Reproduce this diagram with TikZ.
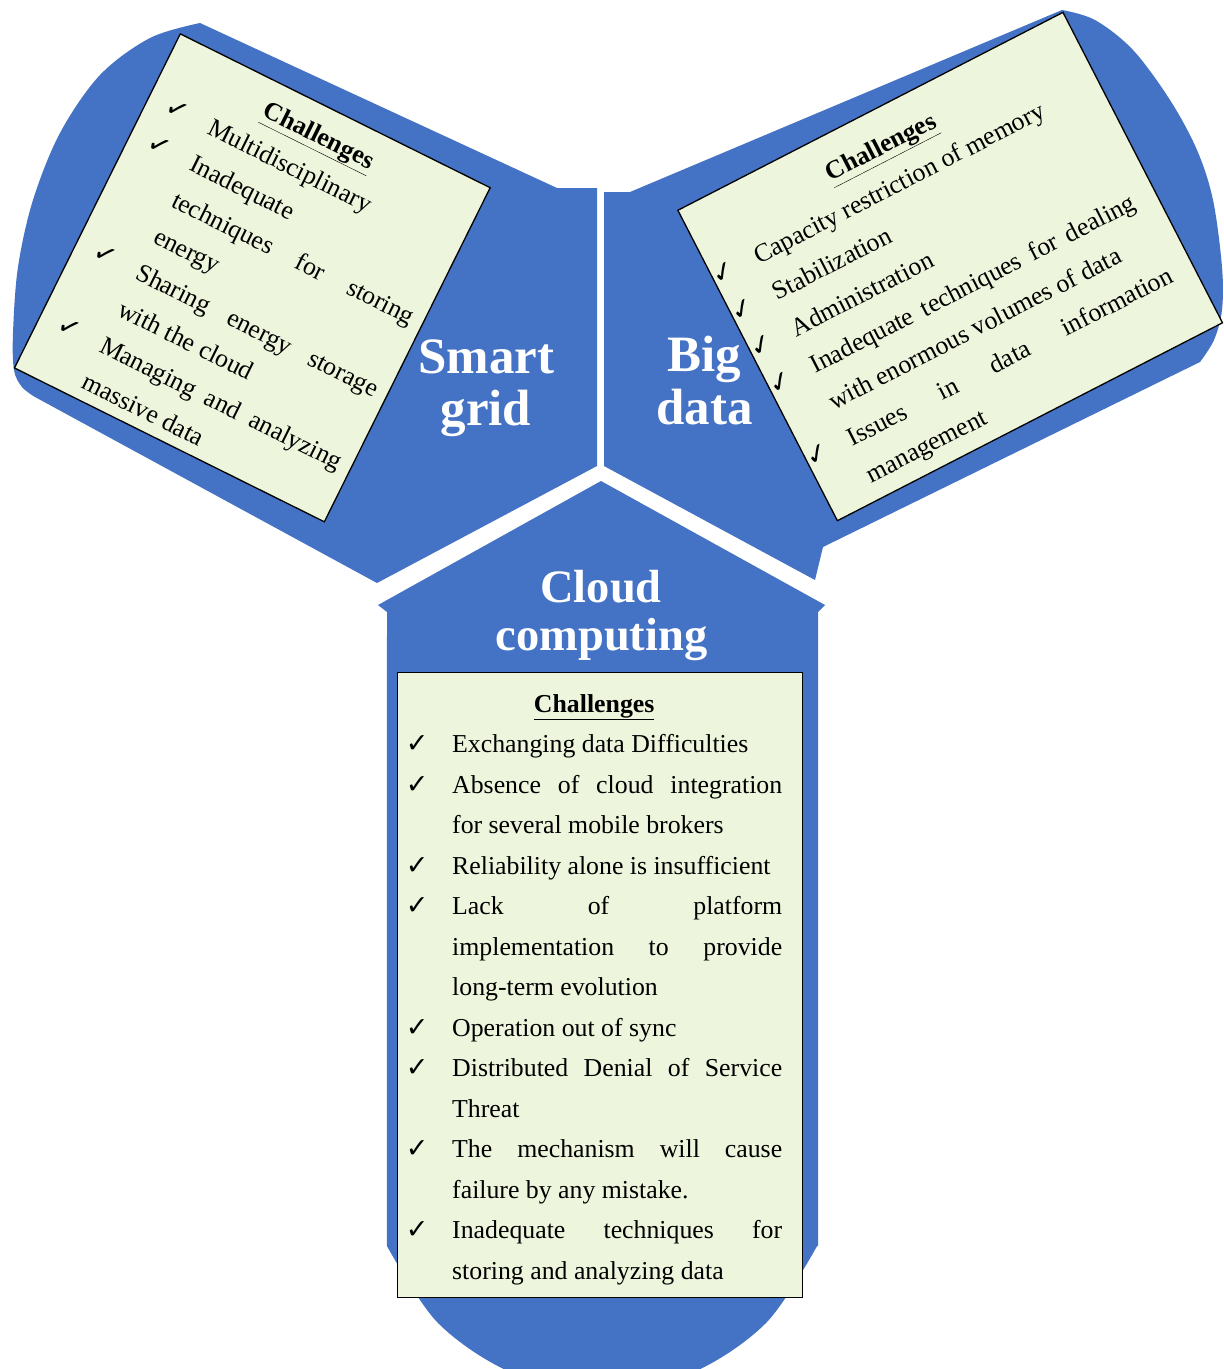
\documentclass[tikz,border=0pt]{standalone}
\usepackage{fontspec}
\setmainfont{Liberation Serif}
\newfontfamily\chkfont{DejaVu Sans}
\definecolor{armblue}{RGB}{68,114,196}
\definecolor{boxfill}{RGB}{237,245,220}
\newcommand{\ck}{{\chkfont\fontsize{27}{27}\selectfont ✓}}
\newcommand{\ttl}{{\bfseries\underline{Challenges}}}
% one text line: check/centre position, check/title, text start, text
\newcommand{\BL}[4]{\noindent\rlap{\hskip #1\relax\makebox[0pt][c]{#2}}\hskip #3\relax #4\par}
\newcommand{\setlines}{\baselineskip=40.5pt\lineskiplimit=-100pt\parskip=0pt\parindent=0pt}
\tikzset{
  arm/.style={fill=armblue},
  chbox/.style={draw=black, line width=1.3pt, fill=boxfill, rectangle, inner sep=0pt, transform shape},
  txt/.style={font=\fontsize{25.8}{30}\selectfont, inner sep=0pt, text=black, transform shape},
  armtitle/.style={font=\bfseries\fontsize{51}{56}\selectfont, inner sep=0pt, text=white},
  armtitlesm/.style={font=\bfseries\fontsize{46.5}{50}\selectfont, inner sep=0pt, text=white}
}
\begin{document}
\begin{tikzpicture}[x=1pt,y=-1pt]
\fill[white] (0,0) rectangle (1224,1369);
\useasboundingbox (0,0) rectangle (1224,1369);

% ---------- arms ----------
% Smart grid arm (upper left)
\fill[arm] (597,466) -- (597,188) -- (557,188) -- (200,23)
  -- plot[smooth, tension=0.55] coordinates {(200,23) (150,38) (100,75) (60,133) (33,200) (18,267) (13,333) (14,370) (22,387) (35,397)}
  -- (377,583) -- cycle;
% Big data arm (upper right)
\fill[arm] (604,466) -- (604,192) -- (630,192) -- (1062,10)
  -- plot[smooth, tension=0.55] coordinates {(1062,10) (1095,20) (1133,50) (1170,100) (1197,150) (1213,200) (1222,267) (1222,310) (1214,340) (1200,362)}
  -- (823,547) -- (815,580) -- cycle;
% Cloud computing arm (bottom)
\fill[arm] (601,481) -- (825,605) -- (818,612) -- (818,1246)
  -- plot[smooth, tension=0.55] coordinates {(817.1,1245.9) (766,1323) (690.8,1373.3) (602,1391) (513.2,1373.3) (438,1323) (386.9,1245.9)}
  -- (387,612) -- (378,605) -- cycle;

% ---------- arm titles ----------
\node[armtitle, anchor=base] (sgT1) at (486.5,373) {Smart};
\node[armtitle, anchor=base] (sgT2) at (486,425) {grid};
\node[armtitle, anchor=base] (bdT1) at (704,371) {Big};
\node[armtitle, anchor=base] (bdT2) at (704.5,424) {data};
\node[armtitlesm, anchor=base] (ccT1) at (601,602) {Cloud};
\node[armtitlesm, anchor=base] (ccT2) at (601.5,650) {computing};

% ---------- Smart grid box ----------
\begin{scope}[shift={(180,33)}, rotate=-26.4]
  \node[chbox, anchor=north west, minimum width=346pt, minimum height=373pt] (sgbox) at (0,0) {};
  \node[txt, anchor=base west] (sgtext) at (0,38) {\begin{minipage}[t]{346pt}\setlines
    \BL{170pt}{\ttl}{0pt}{}
    \BL{32pt}{\ck}{68pt}{Multidisciplinary}
    \BL{32pt}{\ck}{68pt}{Inadequate}
    \BL{32pt}{}{68pt}{\makebox[267pt][s]{techniques for storing}}
    \BL{32pt}{}{68pt}{energy}
    \BL{32pt}{\ck}{68pt}{\makebox[267pt][s]{Sharing energy storage}}
    \BL{32pt}{}{68pt}{with the cloud}
    \BL{32pt}{\ck}{68pt}{\makebox[267pt][s]{Managing and analyzing}}
    \BL{32pt}{}{68pt}{massive data}
  \end{minipage}};
\end{scope}

% ---------- Big data box ----------
\begin{scope}[shift={(677,210)}, rotate=27.2]
  \node[chbox, anchor=north west, minimum width=433pt, minimum height=349pt] (bdbox) at (0,0) {};
  \node[txt, anchor=base west] (bdtext) at (0,45) {\begin{minipage}[t]{433pt}\setlines\baselineskip=41pt
    \BL{210pt}{\ttl}{0pt}{}
    \BL{13pt}{\ck}{48pt}{Capacity restriction of memory}
    \BL{13pt}{\ck}{48pt}{Stabilization}
    \BL{13pt}{\ck}{48pt}{Administration}
    \BL{13pt}{\ck}{48pt}{\makebox[362pt][s]{Inadequate techniques for dealing}}
    \BL{13pt}{}{48pt}{with enormous volumes of data}
    \BL{13pt}{\ck}{48pt}{\makebox[362pt][s]{Issues in data information}}
    \BL{13pt}{}{48pt}{management}
  \end{minipage}};
\end{scope}

% ---------- Cloud computing box ----------
\begin{scope}[shift={(397,672)}]
  \node[chbox, anchor=north west, minimum width=405pt, minimum height=625pt] (ccbox) at (0,0) {};
  \node[txt, anchor=base west] (cctext) at (0,40) {\begin{minipage}[t]{405pt}\setlines
    \BL{197pt}{\ttl}{0pt}{}
    \BL{20pt}{\ck}{55pt}{Exchanging data Difficulties}
    \BL{20pt}{\ck}{55pt}{\makebox[330pt][s]{Absence of cloud integration}}
    \BL{20pt}{}{55pt}{for several mobile brokers}
    \BL{20pt}{\ck}{55pt}{Reliability alone is insufficient}
    \BL{20pt}{\ck}{55pt}{\makebox[330pt][s]{Lack of platform}}
    \BL{20pt}{}{55pt}{\makebox[330pt][s]{implementation to provide}}
    \BL{20pt}{}{55pt}{long-term evolution}
    \BL{20pt}{\ck}{55pt}{Operation out of sync}
    \BL{20pt}{\ck}{55pt}{\makebox[330pt][s]{Distributed Denial of Service}}
    \BL{20pt}{}{55pt}{Threat}
    \BL{20pt}{\ck}{55pt}{\makebox[330pt][s]{The mechanism will cause}}
    \BL{20pt}{}{55pt}{failure by any mistake.}
    \BL{20pt}{\ck}{55pt}{\makebox[330pt][s]{Inadequate techniques for}}
    \BL{20pt}{}{55pt}{storing and analyzing data}
  \end{minipage}};
\end{scope}
\end{tikzpicture}
\end{document}
